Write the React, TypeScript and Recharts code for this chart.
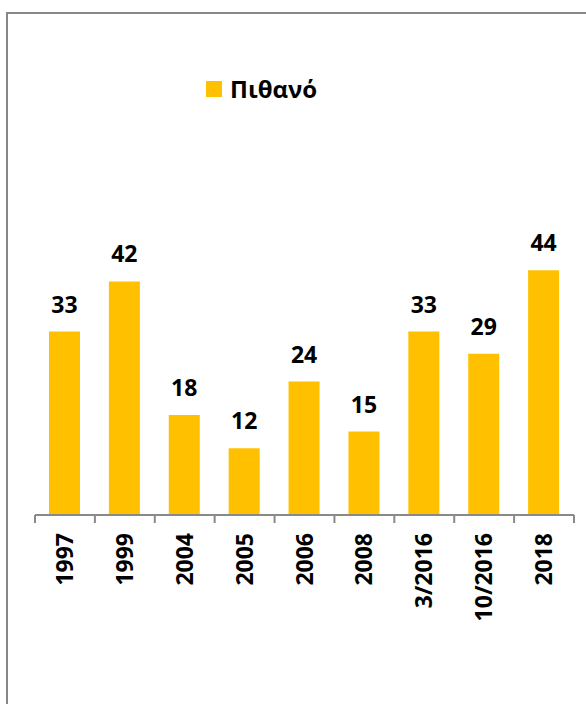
import { Bar, BarChart, LabelList, Legend, XAxis, YAxis } from "recharts";

const years = ["1997", "1999", "2004", "2005", "2006", "2008", "3/2016", "10/2016", "2018"];
const pithano = [33, 42, 18, 12, 24, 15, 33, 29, 44];
const seriesName = "Πιθανό";

const data = years.map((year, i) => ({ year, value: pithano[i] }));

const W = 586;
const H = 704;
const margin = { top: 237, right: 12, bottom: 89, left: 35 };
const band = (W - margin.left - margin.right) / years.length;
const font = "'Open Sans', 'Liberation Sans', sans-serif";

function YearTick(props: any) {
    const { x, y, payload, index } = props;
    const left = x - band / 2;
    const right = x + band / 2;
    return (
        <g>
            <line x1={left} y1={y - 8} x2={left} y2={y} stroke="#898989" strokeWidth={2} />
            {index === years.length - 1 && (
                <line x1={right} y1={y - 8} x2={right} y2={y} stroke="#898989" strokeWidth={2} />
            )}
            <text
                x={x}
                y={y + 10}
                transform={`rotate(-90, ${x}, ${y + 10})`}
                textAnchor="end"
                dy={8}
                fontFamily={font}
                fontWeight="bold"
                fontSize={23}
                fill="#000"
            >
                {payload.value}
            </text>
        </g>
    );
}

const renderLegend = (props: any) => (
    <div style={{ display: "flex", alignItems: "center", fontFamily: font }}>
        {props.payload.map((entry: any) => (
            <div key={entry.value} style={{ display: "flex", alignItems: "center" }}>
                <span style={{ width: 16, height: 16, background: "#FFC000", marginRight: 8, display: "inline-block" }} />
                <span style={{ fontSize: 24, fontWeight: "bold", color: "#000", lineHeight: "26px" }}>{entry.value}</span>
            </div>
        ))}
    </div>
);

export default function App() {
    return (
        <div style={{ position: "fixed", left: 0, top: 0, width: W, height: H, overflow: "hidden", background: "#fff" }}>
            <div
                style={{
                    position: "absolute",
                    left: 6,
                    top: 12,
                    width: 700,
                    height: 800,
                    borderTop: "2px solid #878787",
                    borderLeft: "2px solid #878787",
                }}
            />
            <div style={{ position: "absolute", left: 0, top: 0 }}>
                <BarChart width={W} height={H} data={data} margin={margin}>
                    <XAxis
                        dataKey="year"
                        height={100}
                        interval={0}
                        tickLine={false}
                        tickSize={8}
                        tickMargin={0}
                        axisLine={{ stroke: "#898989", strokeWidth: 2 }}
                        tick={<YearTick />}
                    />
                    <YAxis hide domain={[0, 50]} />
                    <Legend
                        layout="horizontal"
                        verticalAlign="middle"
                        align="center"
                        content={renderLegend}
                        wrapperStyle={{ left: 206, top: 76, width: "auto" }}
                    />
                    <Bar dataKey="value" name={seriesName} fill="#FFC000" barSize={31} isAnimationActive={false}>
                        <LabelList
                            dataKey="value"
                            position="top"
                            offset={19}
                            fontFamily={font}
                            fontWeight="bold"
                            fontSize={23}
                            fill="#000"
                        />
                    </Bar>
                </BarChart>
            </div>
        </div>
    );
}
